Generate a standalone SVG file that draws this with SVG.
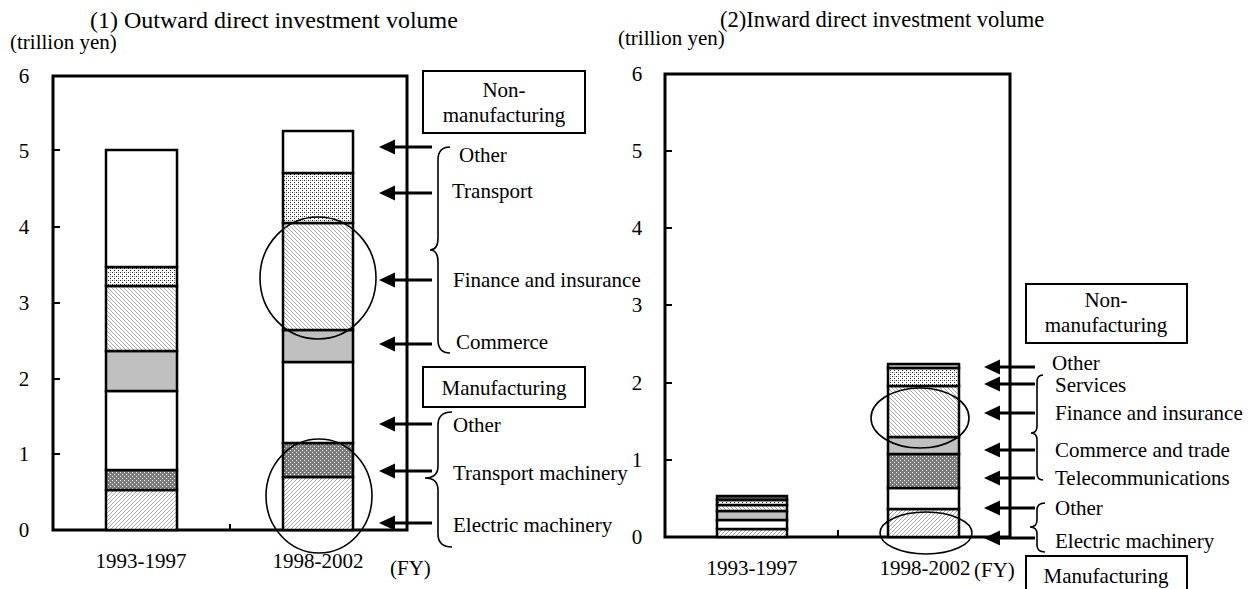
<svg xmlns="http://www.w3.org/2000/svg" width="1258" height="589" viewBox="0 0 1258 589" font-family="'Liberation Serif', 'Times New Roman', serif">
<style>
text{font-family:'Liberation Serif','Times New Roman',serif;font-size:21px;fill:#000}
.title{font-size:24px}
.title2{font-size:22.5px}
.box{fill:#fff;stroke:#000;stroke-width:2}
.frame{fill:none;stroke:#000;stroke-width:3}
.tick{stroke:#000;stroke-width:2}
.seg{stroke:#000;stroke-width:2.5}
.ring{fill:none;stroke:#000;stroke-width:1.6}
.brace{fill:none;stroke:#000;stroke-width:1.6}
.arrow{stroke:#000;stroke-width:3;marker-end:url(#ah)}
.mid{text-anchor:middle}
</style>
<defs>
<marker id="ah" markerUnits="userSpaceOnUse" markerWidth="16" markerHeight="16" viewBox="0 0 16 16" refX="9" refY="8" orient="auto">
<path d="M0,0.5 L16,8 L0,15.5 z" fill="#000"/>
</marker>
<pattern id="hatchR" patternUnits="userSpaceOnUse" width="4" height="4">
<rect width="4" height="4" fill="#fff"/>
<path d="M-1,1 L1,-1 M0,4 L4,0 M3,5 L5,3" stroke="#a6a6a6" stroke-width="1"/>
</pattern>
<pattern id="hatchL" patternUnits="userSpaceOnUse" width="4" height="4">
<rect width="4" height="4" fill="#fff"/>
<path d="M-1,3 L1,5 M0,0 L4,4 M3,-1 L5,1" stroke="#a6a6a6" stroke-width="1"/>
</pattern>
<pattern id="dots" patternUnits="userSpaceOnUse" width="4" height="4">
<rect width="4" height="4" fill="#fff"/>
<rect x="0" y="0" width="1" height="1" fill="#222"/>
<rect x="2" y="2" width="1" height="1" fill="#222"/>
<rect x="2" y="0" width="1" height="1" fill="#999"/>
</pattern>
<pattern id="darkdots" patternUnits="userSpaceOnUse" width="4" height="4">
<rect width="4" height="4" fill="#7a7a7a"/>
<rect x="0" y="0" width="1" height="1" fill="#fff"/>
<rect x="2" y="2" width="1" height="1" fill="#fff"/>
</pattern>
</defs>
<rect width="1258" height="589" fill="#fff"/>

<g id="chart1-axes">
<text class="title" x="90" y="28">(1) Outward direct investment volume</text>
<text x="10" y="49">(trillion yen)</text>
<rect class="frame" x="53" y="76" width="354" height="454"/>
<path class="tick" d="M53,150 H60 M53,227 H60 M53,303 H60 M53,379 H60 M53,454 H60 M230,530 V524"/>
<g class="mid">
<text x="24" y="83">6</text>
<text x="24" y="158">5</text>
<text x="24" y="234">4</text>
<text x="24" y="310">3</text>
<text x="24" y="386">2</text>
<text x="24" y="461">1</text>
<text x="24" y="537">0</text>
<text x="141" y="568">1993-1997</text>
<text x="318" y="568">1998-2002</text>
</g>
<text x="390" y="575">(FY)</text>
</g>
<g id="chart1-bar-1993">
<rect class="seg" x="106" y="490" width="71" height="40" fill="url(#hatchR)"/>
<rect class="seg" x="106" y="470" width="71" height="20" fill="url(#darkdots)"/>
<rect class="seg" x="106" y="391" width="71" height="79" fill="#fff"/>
<rect class="seg" x="106" y="351" width="71" height="40" fill="#c0c0c0"/>
<rect class="seg" x="106" y="286" width="71" height="65" fill="url(#hatchL)"/>
<rect class="seg" x="106" y="267" width="71" height="19" fill="url(#dots)"/>
<rect class="seg" x="106" y="150" width="71" height="117" fill="#fff"/>
</g>
<g id="chart1-bar-1998">
<rect class="seg" x="283" y="477" width="70" height="53" fill="url(#hatchR)"/>
<rect class="seg" x="283" y="443" width="70" height="34" fill="url(#darkdots)"/>
<rect class="seg" x="283" y="362" width="70" height="81" fill="#fff"/>
<rect class="seg" x="283" y="330" width="70" height="32" fill="#c0c0c0"/>
<rect class="seg" x="283" y="223" width="70" height="107" fill="url(#hatchL)"/>
<rect class="seg" x="283" y="173" width="70" height="50" fill="url(#dots)"/>
<rect class="seg" x="283" y="131" width="70" height="42" fill="#fff"/>
</g>
<g id="chart1-highlights">
<ellipse class="ring" cx="318" cy="278" rx="58" ry="61"/>
<ellipse class="ring" cx="319" cy="496" rx="53" ry="57"/>
</g>
<g id="chart1-nonmanufacturing-box">
<rect class="box" x="423" y="71" width="162" height="62"/>
<text class="mid" x="504" y="97">Non-</text>
<text class="mid" x="504" y="122">manufacturing</text>
</g>
<g id="chart1-manufacturing-box">
<rect class="box" x="423" y="367" width="162" height="40"/>
<text class="mid" x="504" y="395">Manufacturing</text>
</g>
<g id="chart1-labels">
<path class="brace" d="M450,147 Q438,147 438,160 L438,238 Q438,250 430,250 Q438,250 438,262 L438,340 Q438,353 450,353"/>
<path class="brace" d="M452,412 Q438,412 438,425 L438,466 Q438,478 425,478 Q438,478 438,490 L438,534 Q438,547 452,547"/>
<text x="459" y="162">Other</text>
<text x="452" y="198">Transport</text>
<text x="453" y="287">Finance and insurance</text>
<text x="456" y="349">Commerce</text>
<text x="453" y="432">Other</text>
<text x="453" y="480">Transport machinery</text>
<text x="453" y="532">Electric machinery</text>
</g>

<g id="chart2-axes">
<text class="title2" x="720" y="27">(2)Inward direct investment volume</text>
<text x="618" y="45">(trillion yen)</text>
<rect class="frame" x="665" y="74" width="345" height="463"/>
<path class="tick" d="M665,151 H672 M665,228 H672 M665,305 H672 M665,383 H672 M665,460 H672 M838,537 V530"/>
<g class="mid">
<text x="637" y="81">6</text>
<text x="637" y="158">5</text>
<text x="637" y="235">4</text>
<text x="637" y="312">3</text>
<text x="637" y="390">2</text>
<text x="637" y="467">1</text>
<text x="637" y="544">0</text>
<text x="752" y="575">1993-1997</text>
<text x="925" y="575">1998-2002</text>
</g>
<text x="974" y="577">(FY)</text>
</g>
<g id="chart2-bar-1993">
<rect class="seg" x="717" y="529" width="70" height="8" fill="url(#hatchR)"/>
<rect class="seg" x="717" y="520" width="70" height="9" fill="#fff"/>
<rect class="seg" x="717" y="511" width="70" height="9" fill="#c0c0c0"/>
<rect class="seg" x="717" y="505" width="70" height="6" fill="url(#hatchL)"/>
<rect class="seg" x="717" y="500" width="70" height="5" fill="url(#dots)"/>
<rect class="seg" x="717" y="496" width="70" height="4" fill="#555"/>
</g>
<g id="chart2-bar-1998">
<rect class="seg" x="888" y="509" width="71" height="28" fill="url(#hatchR)"/>
<rect class="seg" x="888" y="488" width="71" height="21" fill="#fff"/>
<rect class="seg" x="888" y="454" width="71" height="34" fill="url(#darkdots)"/>
<rect class="seg" x="888" y="437" width="71" height="17" fill="#c0c0c0"/>
<rect class="seg" x="888" y="386" width="71" height="51" fill="url(#hatchL)"/>
<rect class="seg" x="888" y="368" width="71" height="18" fill="url(#dots)"/>
<rect class="seg" x="888" y="364" width="71" height="4" fill="#c0c0c0"/>
</g>
<g id="chart2-highlights">
<ellipse class="ring" cx="920" cy="418" rx="49" ry="30"/>
<ellipse class="ring" cx="926" cy="533" rx="46" ry="21"/>
</g>
<g id="chart2-nonmanufacturing-box">
<rect class="box" x="1026" y="284" width="161" height="59"/>
<text class="mid" x="1106" y="307">Non-</text>
<text class="mid" x="1106" y="332">manufacturing</text>
</g>
<g id="chart2-manufacturing-box">
<rect class="box" x="1026" y="556" width="161" height="50"/>
<text class="mid" x="1106" y="583">Manufacturing</text>
</g>
<g id="chart2-labels">
<path class="brace" d="M1043,375 Q1037,375 1037,382 L1037,426 Q1037,433 1031,433 Q1037,433 1037,440 L1037,473 Q1037,480 1043,480"/>
<path class="brace" d="M1045,503 Q1037,503 1037,510 L1037,520 Q1037,527 1030,527 Q1037,527 1037,534 L1037,545 Q1037,552 1045,552"/>
<text x="1052" y="370">Other</text>
<text x="1055" y="392">Services</text>
<text x="1055" y="420">Finance and insurance</text>
<text x="1055" y="457">Commerce and trade</text>
<text x="1055" y="485">Telecommunications</text>
<text x="1055" y="515">Other</text>
<text x="1055" y="548">Electric machinery</text>
</g>

<g id="connectors">
<line class="arrow" x1="432" y1="147" x2="386" y2="147"/>
<line class="arrow" x1="432" y1="193" x2="386" y2="193"/>
<line class="arrow" x1="432" y1="280" x2="386" y2="280"/>
<line class="arrow" x1="432" y1="344" x2="386" y2="344"/>
<line class="arrow" x1="432" y1="424" x2="386" y2="424"/>
<line class="arrow" x1="432" y1="471" x2="386" y2="471"/>
<line class="arrow" x1="432" y1="523" x2="386" y2="523"/>
<line class="arrow" x1="1035" y1="367" x2="991" y2="367"/>
<line class="arrow" x1="1035" y1="384" x2="991" y2="384"/>
<line class="arrow" x1="1035" y1="413" x2="991" y2="413"/>
<line class="arrow" x1="1035" y1="450" x2="991" y2="450"/>
<line class="arrow" x1="1035" y1="478" x2="991" y2="478"/>
<line class="arrow" x1="1035" y1="508" x2="991" y2="508"/>
<line class="arrow" x1="1035" y1="538" x2="991" y2="538"/>
</g>
</svg>
